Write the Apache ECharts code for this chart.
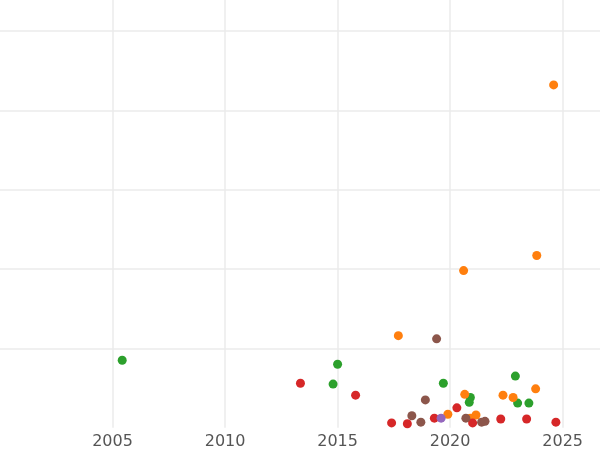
<!DOCTYPE html>
<html><head><meta charset="utf-8">
<script src="https://cdn.jsdelivr.net/npm/echarts@6/dist/echarts.min.js"></script>
<style>html,body{margin:0;padding:0;background:#fff}#c{width:600px;height:450px}</style>
</head><body><div id="c"></div>
<script>
var greenPts = [[2005.43,0.85],[2015.0,0.80],[2014.8,0.55],[2019.7,0.56],[2020.9,0.38],[2020.85,0.32],[2022.9,0.65],[2023.0,0.31],[2023.5,0.31]];
var orangePts = [[2024.6,4.32],[2023.85,2.17],[2020.6,1.98],[2017.7,1.16],[2023.8,0.49],[2022.35,0.41],[2022.8,0.38],[2020.65,0.42],[2019.9,0.17],[2021.15,0.16],[2020.9,0.12]];
var redPts = [[2013.35,0.56],[2015.8,0.41],[2017.4,0.06],[2018.1,0.05],[2019.3,0.12],[2020.3,0.25],[2021.0,0.06],[2022.25,0.11],[2023.4,0.11],[2024.7,0.07]];
var brownPts = [[2019.4,1.12],[2018.9,0.35],[2018.3,0.15],[2018.7,0.07],[2020.7,0.12],[2021.4,0.07],[2021.55,0.08]];
var purplePts = [[2019.6,0.12]];

var myChart = echarts.init(document.getElementById('c'));
function ser(data, color){
    return {type:'scatter', data:data, symbolSize:9, itemStyle:{color:color, opacity:1}};
}
var option = {
    backgroundColor:'#fff',
    animation:false,
    textStyle:{fontFamily:'DejaVu Sans'},
    grid:{left:-89.25, right:0, top:0, bottom:22.3},
    xAxis:{
        type:'value', min:2000, max:2026.66, interval:5,
        axisLine:{show:false}, axisTick:{show:false},
        axisLabel:{color:'#555', fontSize:16, margin:6, showMaxLabel:false, showMinLabel:false,
            fontFamily:'DejaVu Sans',
            formatter:function(v){return v % 5 === 0 ? String(v) : '';}},
        splitLine:{showMinLine:false, showMaxLine:false, lineStyle:{color:'#ebebeb', width:1.5}}
    },
    yAxis:{
        type:'value', min:0, max:5.39, interval:1,
        axisLine:{show:false}, axisTick:{show:false}, axisLabel:{show:false},
        splitLine:{showMinLine:false, showMaxLine:false, lineStyle:{color:'#ebebeb', width:1.5}}
    },
    series:[
        ser(greenPts,'#2ca02c'),
        ser(orangePts,'#ff7f0e'),
        ser(redPts,'#d62728'),
        ser(brownPts,'#8c564b'),
        ser(purplePts,'#9467bd')
    ]
};
myChart.setOption(option);
</script></body></html>
